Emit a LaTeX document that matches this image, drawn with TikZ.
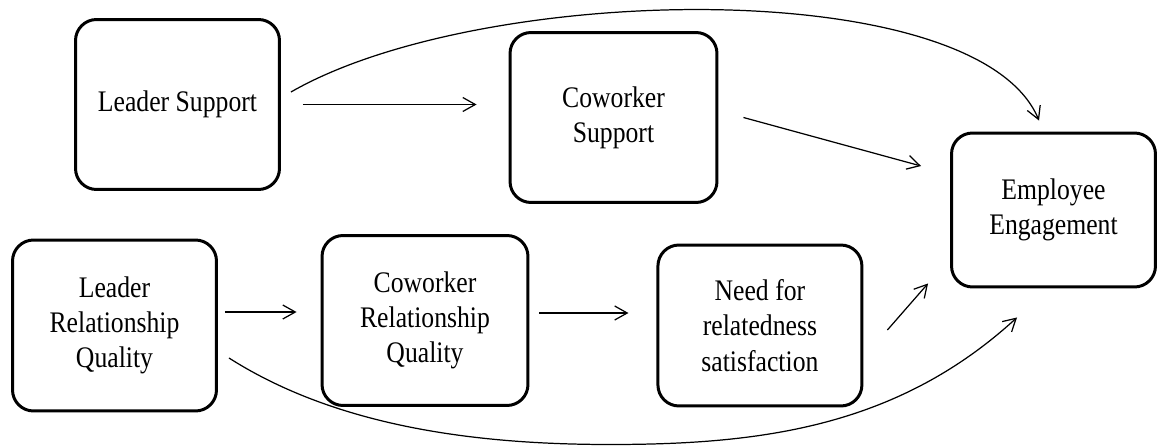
\documentclass[tikz,border=0pt]{standalone}
\usepackage{fontspec}
\setmainfont[FakeStretch=0.86]{Liberation Serif}
\usetikzlibrary{positioning,arrows.meta}

\begin{document}
\begin{tikzpicture}[x=0.02cm,y=-0.02cm,
  >={Straight Barb[length=2.5mm,width=2.8mm]},
  factor/.style={draw,line width=1.7pt,rounded corners=.42cm,align=center,
    minimum width=4.08cm,minimum height=3.4cm,
    font=\fontsize{17pt}{20pt}\selectfont},
  link/.style={->,line width=.7pt}]
\useasboundingbox (0,0) rectangle (1157,446);
\path
  (177.5,104.5) node [factor] (ls) {Leader Support}
  (613.5,117.5) node [factor,minimum width=4.14cm] (cs) {Coworker\\Support}
  (1053.5,210) node [factor,minimum height=3.08cm] (ee) {Employee\\Engagement}
  (114.5,325.5) node [factor,minimum height=3.42cm] (lrq)
    {Leader\\Relationship\\Quality}
  (425,320.5) node [factor,minimum width=4.12cm] (crq)
    {Coworker\\Relationship\\Quality}
  node [factor,minimum height=3.22cm,right=2.54cm of crq.east,yshift=-.1cm]
    (need) {Need for\\relatedness\\satisfaction};
\coordinate (low) at (610,444.5);
\draw [link,shorten <=.44cm,shorten >=.64cm] (ls.east) -- (ls.east -| cs.west);
\draw [link] ([xshift=.5cm]cs.east) -- ([xshift=-.58cm,yshift=.88cm]ee.west);
\draw [link] ([xshift=.2cm,yshift=.25cm]ls.east)
  .. controls +(191,-110) and +(-61,-147) .. ([xshift=-.29cm,yshift=.22cm]ee.north);
\draw [link,shorten <=.14cm,shorten >=.48cm] ([yshift=.27cm]lrq.east)
  -- ([yshift=.27cm]lrq.east -| crq.west);
\draw [link,shorten <=.2cm,shorten >=.56cm] ([yshift=.15cm]crq.east)
  -- ([yshift=.15cm]crq.east -| need.west);
\draw [link] ([xshift=.48cm,yshift=-.09cm]need.east)
  -- ([xshift=-.44cm,yshift=.1cm]ee.south west);
\draw [link] ([xshift=.22cm,yshift=-.65cm]lrq.east)
  .. controls +(110,70) and +(-130,0) .. (low)
  .. controls +(150,0) and +(-120,110) .. ([xshift=-.73cm,yshift=-.58cm]ee.south);
\end{tikzpicture}
\end{document}
